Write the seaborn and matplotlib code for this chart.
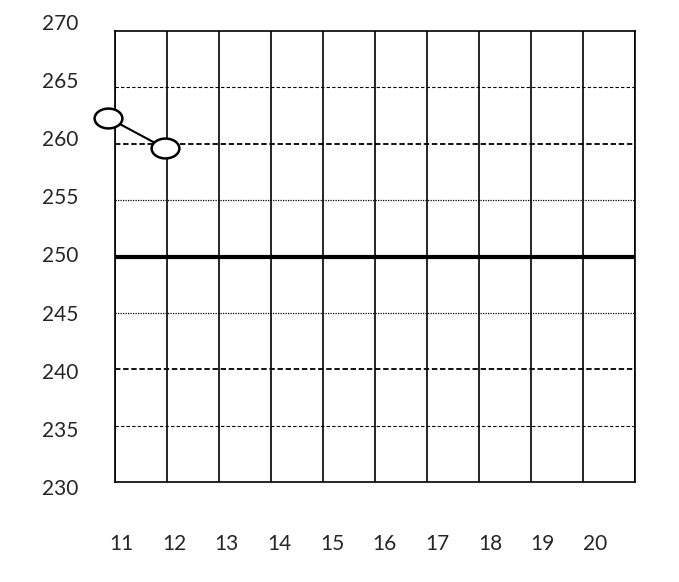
import numpy as np
import pandas as pd
import matplotlib
matplotlib.use("Agg")
import matplotlib.pyplot as plt
import matplotlib.transforms as mtransforms
from matplotlib.path import Path
import seaborn as sns

# data
x_vals = [10.87, 11.96]
y_vals = [262.3, 259.6]
x_labels = [11, 12, 13, 14, 15, 16, 17, 18, 19, 20]
y_ticks = [230, 235, 240, 245, 250, 255, 260, 265, 270]

sns.set_style("white")
plt.rcParams['font.family'] = ['Lato', 'DejaVu Sans']

fig = plt.figure(figsize=(6.79, 5.82), dpi=100)
ax = fig.add_axes([115 / 679, 100 / 582, 520 / 679, 451 / 582])

# horizontal reference lines, each with its own style
hstyles = {
    265: dict(ls=(0, (3, 2)), lw=0.8),
    260: dict(ls=(0, (3, 1.5)), lw=1.3),
    255: dict(ls=(0, (1, 1)), lw=0.9),
    250: dict(ls='-', lw=3.0),
    245: dict(ls=(0, (1, 1)), lw=0.9),
    240: dict(ls=(0, (3, 1.5)), lw=1.3),
    235: dict(ls=(0, (3, 2)), lw=0.8),
}
for yv, st in hstyles.items():
    ax.axhline(yv, color='black', zorder=1, **st)

for xv in range(11, 22):
    ax.axvline(xv, color='black', lw=1.2, zorder=1)

# ellipse marker
circ = Path.unit_circle()
ell = Path(circ.vertices * np.array([1.4, 1.0]), circ.codes)

df = pd.DataFrame({'x': x_vals, 'y': y_vals})
sns.lineplot(data=df, x='x', y='y', ax=ax, color='black', lw=1.5,
             marker=ell, markersize=20, markerfacecolor='white',
             markeredgecolor='black', markeredgewidth=1.8, zorder=5,
             clip_on=False)

ax.set_xlim(11, 21)
ax.set_ylim(230, 270)
ax.set_xticks([])
ax.set_yticks([])
ax.set_xlabel('')
ax.set_ylabel('')

# y labels sit slightly spread out relative to the grid, as in the original
for v in y_ticks:
    yf = 0.5 + (v - 250) / 40 * 1.029
    ax.text(-0.07, yf, str(v), transform=ax.transAxes, fontsize=15,
            ha='right', va='center')

trans = mtransforms.blended_transform_factory(ax.transData, ax.transAxes)
for i, lab in enumerate(x_labels):
    ax.text(11.12 + i * 1.013, -0.137, str(lab), transform=trans, fontsize=15,
            ha='center', va='center')

for s in ax.spines.values():
    s.set_visible(True)
    s.set_color('black')
    s.set_linewidth(1.2)

fig.savefig('out.png', dpi=100)
